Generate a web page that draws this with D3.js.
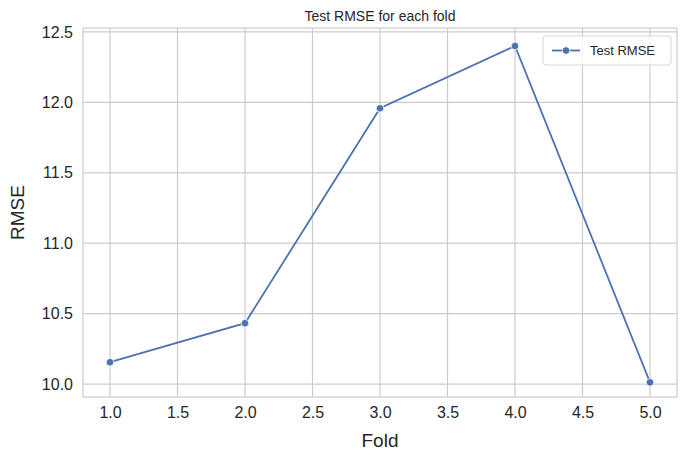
<!DOCTYPE html>
<html><head><meta charset="utf-8">
<script src="https://cdn.jsdelivr.net/npm/d3@7"></script>
<style>body{margin:0;background:#fff;font-family:Arial,"Liberation Sans",sans-serif}</style>
</head><body><svg id="c" width="687" height="463"></svg>
<script>
var folds = [1, 2, 3, 4, 5];
var rmse = [10.155, 10.432, 11.958, 12.400, 10.012];
var xTicks = [1.0, 1.5, 2.0, 2.5, 3.0, 3.5, 4.0, 4.5, 5.0];
var yTicks = [10.0, 10.5, 11.0, 11.5, 12.0, 12.5];

var svg = d3.select("#c");
var m = {l: 83, r: 10, t: 28, b: 66};
var w = 687 - m.l - m.r, h = 463 - m.t - m.b;
var color = "#4c72b0";

var x = d3.scaleLinear().domain([0.8, 5.2]).range([0, w]);
var y = d3.scaleLinear().domain([9.908, 12.528]).range([h, 0]);

var g = svg.append("g").attr("transform", "translate(" + m.l + "," + m.t + ")");

// grid
g.selectAll(".gx").data(xTicks).enter().append("line")
  .attr("x1", d => x(d)).attr("x2", d => x(d)).attr("y1", 0).attr("y2", h)
  .style("stroke", "#cccccc").style("stroke-width", 1.2);
g.selectAll(".gy").data(yTicks).enter().append("line")
  .attr("y1", d => y(d)).attr("y2", d => y(d)).attr("x1", 0).attr("x2", w)
  .style("stroke", "#cccccc").style("stroke-width", 1.2);

g.append("rect").attr("width", w).attr("height", h)
  .style("fill", "none").style("stroke", "#cccccc").style("stroke-width", 1.2);

// axes
var xa = g.append("g").attr("transform", "translate(0," + h + ")")
  .call(d3.axisBottom(x).tickValues(xTicks).tickFormat(d3.format(".1f")).tickSize(0).tickPadding(10));
var ya = g.append("g")
  .call(d3.axisLeft(y).tickValues(yTicks).tickFormat(d3.format(".1f")).tickSize(0).tickPadding(10));
[xa, ya].forEach(a => {
  a.select(".domain").remove();
  a.selectAll("text").style("font-size", "16px").style("fill", "#262626")
    .style("font-family", "Arial, 'Liberation Sans', sans-serif");
});

// line
var pts = folds.map((f, i) => [f, rmse[i]]);
g.append("path").datum(pts)
  .attr("d", d3.line().x(d => x(d[0])).y(d => y(d[1])))
  .style("fill", "none").style("stroke", color).style("stroke-width", 1.8);
g.selectAll(".pt").data(pts).enter().append("circle")
  .attr("cx", d => x(d[0])).attr("cy", d => y(d[1])).attr("r", 3.8)
  .style("fill", color).style("stroke", "#fff").style("stroke-width", 0.8);

// labels
svg.append("text").attr("x", m.l + w / 2).attr("y", 21).attr("text-anchor", "middle")
  .style("font-size", "14px").style("fill", "#262626").text("Test RMSE for each fold");
svg.append("text").attr("x", m.l + w / 2).attr("y", 447).attr("text-anchor", "middle")
  .style("font-size", "19px").style("fill", "#262626").text("Fold");
svg.append("text").attr("transform", "translate(24," + (m.t + h / 2) + ") rotate(-90)")
  .attr("text-anchor", "middle").style("font-size", "19px").style("fill", "#262626").text("RMSE");

// legend
var lg = svg.append("g").attr("transform", "translate(543,36)");
lg.append("rect").attr("width", 128).attr("height", 29).attr("rx", 3)
  .style("fill", "#fff").style("fill-opacity", 0.8).style("stroke", "#d6d6d6");
lg.append("line").attr("x1", 9).attr("x2", 37).attr("y1", 14.5).attr("y2", 14.5)
  .style("stroke", color).style("stroke-width", 1.8);
lg.append("circle").attr("cx", 23).attr("cy", 14.5).attr("r", 3.8)
  .style("fill", color).style("stroke", "#fff").style("stroke-width", 0.8);
lg.append("text").attr("x", 47).attr("y", 19).style("font-size", "13px")
  .style("fill", "#262626").text("Test RMSE");
</script></body></html>
